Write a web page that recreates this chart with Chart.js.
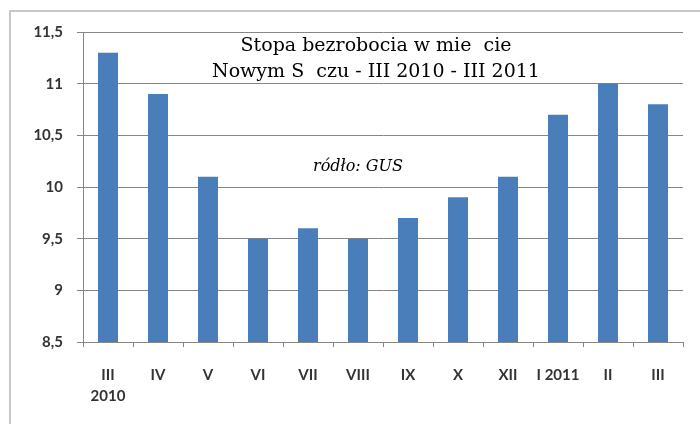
<!DOCTYPE html>
<html>
<head>
<meta charset="utf-8">
<script src="https://cdn.jsdelivr.net/npm/chart.js@4/dist/chart.umd.min.js"></script>
<style>
  html, body { margin: 0; padding: 0; background: #fff; overflow: hidden; }
  #wrap { position: relative; width: 700px; height: 424px; overflow: hidden; }
  #frame { position: absolute; left: 9px; top: 10px; width: 800px; height: 600px; border: 2px solid #c8c8c8; }
  #chart { position: absolute; left: 0; top: 0; }
</style>
</head>
<body>
<div id="wrap">
  <div id="frame"></div>
  <canvas id="chart" width="700" height="424"></canvas>
</div>
<script>
// Stopa bezrobocia, Nowy Sącz, III 2010 - III 2011
const months = [['III', '2010'], 'IV', 'V', 'VI', 'VII', 'VIII', 'IX', 'X', 'XII', 'I 2011', 'II', 'III'];
const rates = [11.3, 10.9, 10.1, 9.5, 9.6, 9.5, 9.7, 9.9, 10.1, 10.7, 11.0, 10.8];
const titleLines = ['Stopa bezrobocia w mie  cie', 'Nowym S  czu - III 2010 - III 2011'];
const sourceNote = 'ródło: GUS';

const AXIS_GRAY = '#868686';
const LABEL = '#333333';

// title + source drawn inside the plot area
const textOverlay = {
  id: 'textOverlay',
  afterDraw(chart) {
    const { ctx, chartArea } = chart;
    const cx = chartArea.left + 293;
    ctx.save();
    ctx.fillStyle = '#000';
    ctx.textAlign = 'center';
    ctx.textBaseline = 'middle';
    ctx.font = '19px "DejaVu Serif"';
    ctx.fillText(titleLines[0], cx, 46);
    ctx.fillText(titleLines[1], cx, 72);
    ctx.font = 'italic 16px "DejaVu Serif"';
    ctx.fillText(sourceNote, chartArea.left + 275, 167);
    ctx.restore();
  }
};

new Chart(document.getElementById('chart'), {
  type: 'bar',
  data: {
    labels: months,
    datasets: [{
      data: rates,
      backgroundColor: '#4a7ebb',
      categoryPercentage: 1,
      barPercentage: 0.4,
    }],
  },
  options: {
    responsive: false,
    animation: false,
    layout: { padding: { left: 0, top: 32, right: 17, bottom: 0 } },
    plugins: { legend: { display: false }, tooltip: { enabled: false } },
    scales: {
      x: {
        offset: true,
        grid: { offset: true, drawOnChartArea: false, drawTicks: true, tickLength: 5, color: AXIS_GRAY },
        border: { color: AXIS_GRAY, width: 1 },
        ticks: { color: LABEL, padding: 18, maxRotation: 0, autoSkip: false, font: { family: 'Lato', weight: 'bold', size: 15, lineHeight: 1.4 } },
        afterFit: s => { s.height = 82; },
      },
      y: {
        min: 8.5,
        max: 11.5,
        ticks: {
          stepSize: 0.5,
          color: LABEL,
          padding: 14,
          font: { family: 'Lato', weight: 'bold', size: 15 },
          callback: v => String(v).replace('.', ','),
        },
        grid: { color: AXIS_GRAY, tickLength: 6, lineWidth: 1 },
        border: { color: AXIS_GRAY, width: 1 },
        afterFit: s => { s.width = 83; },
      },
    },
  },
  plugins: [textOverlay],
});
</script>
</body>
</html>
